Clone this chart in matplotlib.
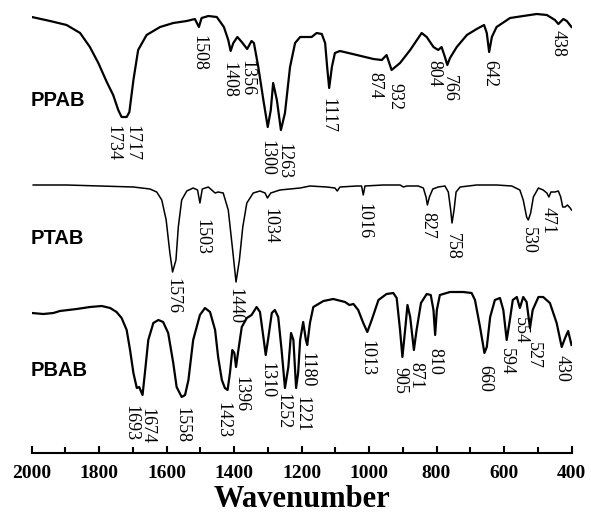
import numpy as np
import matplotlib
matplotlib.use('Agg')
import matplotlib.pyplot as plt
from matplotlib.ticker import MultipleLocator

########### spectra (wavenumber, transmittance in a.u., already stacked)

ppab_wn = [1999, 1945, 1896, 1856, 1827, 1802, 1777, 1758, 1743, 1733, 1725, 1718, 1710, 1698, 1684,
           1659, 1619, 1580, 1540, 1516, 1504, 1496, 1476, 1451, 1430, 1417, 1410, 1402, 1390, 1377,
           1361, 1348, 1341, 1328, 1313, 1300, 1291, 1284, 1273, 1261, 1249, 1234, 1219, 1204, 1195,
           1170, 1155, 1140, 1130, 1124, 1118, 1110, 1101, 1086, 1036, 987, 962, 948, 940, 933,
           908, 878, 844, 829, 809, 795, 785, 775, 768, 760, 740, 710, 681, 659, 651,
           644, 636, 622, 582, 543, 503, 473, 449, 439, 424, 414, 400]
ppab_t = [436, 432, 428, 420, 406, 390, 371, 358, 343, 336, 336, 336, 341, 373, 403,
          418, 426, 430, 432, 434, 426, 435, 437, 436, 426, 413, 402, 410, 416, 411,
          404, 412, 410, 386, 353, 326, 343, 370, 353, 323, 340, 386, 410, 416, 416,
          416, 420, 419, 410, 386, 365, 386, 400, 402, 398, 394, 393, 398, 390, 383,
          390, 403, 420, 416, 406, 403, 406, 396, 388, 395, 406, 418, 424, 428, 420,
          401, 416, 426, 435, 437, 439, 438, 433, 429, 434, 432, 426]

ptab_wn = [1995, 1896, 1797, 1698, 1649, 1629, 1614, 1601, 1590, 1582, 1572, 1565, 1555, 1540, 1521,
           1508, 1501, 1494, 1476, 1456, 1447, 1432, 1417, 1404, 1394, 1384, 1374, 1362, 1343, 1323,
           1308, 1301, 1291, 1264, 1204, 1175, 1125, 1101, 1094, 1086, 1036, 1022, 1017, 1012, 958,
           908, 898, 888, 854, 839, 831, 827, 821, 811, 795, 775, 765, 758, 754, 748,
           742, 730, 681, 622, 577, 553, 543, 533, 528, 521, 513, 498, 484, 473, 467,
           461, 449, 439, 432, 426, 419, 412, 404, 400]
ptab_t = [268, 268, 267, 266, 264, 261, 253, 233, 200, 181, 193, 226, 253, 262, 265,
          263, 250, 264, 266, 260, 261, 260, 243, 203, 171, 193, 226, 250, 260, 262,
          260, 255, 260, 263, 265, 267, 266, 265, 262, 266, 267, 267, 258, 267, 268,
          268, 266, 267, 267, 265, 256, 248, 256, 264, 266, 267, 261, 243, 230, 243,
          261, 266, 268, 268, 267, 263, 253, 236, 233, 240, 256, 265, 263, 260, 256,
          261, 261, 262, 256, 246, 246, 248, 245, 243]

pbab_wn = [1999, 1965, 1935, 1916, 1866, 1827, 1792, 1767, 1748, 1733, 1718, 1708, 1698, 1688, 1681,
           1671, 1664, 1654, 1639, 1624, 1610, 1595, 1580, 1570, 1555, 1545, 1535, 1521, 1501, 1486,
           1471, 1456, 1447, 1436, 1427, 1419, 1412, 1405, 1399, 1394, 1387, 1377, 1362, 1348, 1333,
           1323, 1313, 1306, 1298, 1288, 1279, 1269, 1259, 1249, 1239, 1231, 1224, 1216, 1210, 1204,
           1195, 1187, 1183, 1175, 1165, 1135, 1106, 1071, 1058, 1046, 1032, 1017, 1005, 992, 972,
           948, 928, 918, 908, 901, 893, 886, 878, 867, 859, 846, 829, 817, 809, 804,
           799, 790, 760, 721, 696, 686, 671, 658, 651, 641, 627, 612, 602, 592, 584,
           574, 562, 553, 543, 533, 523, 515, 498, 484, 464, 444, 429, 419, 410, 400]
pbab_t = [140, 139, 140, 142, 144, 146, 147, 145, 141, 135, 123, 103, 80, 65, 66,
          58, 80, 113, 130, 133, 131, 120, 90, 66, 56, 58, 73, 113, 138, 145,
          141, 123, 96, 73, 65, 63, 80, 103, 100, 86, 103, 126, 135, 138, 146,
          141, 116, 98, 116, 140, 143, 136, 103, 65, 86, 120, 113, 65, 80, 113,
          131, 113, 108, 130, 146, 152, 154, 151, 148, 149, 143, 130, 121, 133, 153,
          159, 160, 155, 123, 96, 123, 148, 136, 103, 123, 150, 159, 158, 143, 118,
          143, 158, 161, 161, 160, 153, 126, 100, 106, 136, 153, 155, 143, 113, 130,
          153, 156, 145, 156, 151, 125, 143, 156, 156, 150, 130, 106, 115, 122, 108]

# peak labels: (text, x position, top of label)
ppab_peaks = ['1734', '1717', '1508', '1408', '1356', '1300', '1263', '1117', '874', '932',
              '804', '766', '642', '438']
ppab_px = [1758, 1703, 1504, 1414, 1361, 1303, 1253, 1121, 982, 923, 807, 762, 641, 439]
ppab_py = [328, 328, 418, 391, 393, 313, 310, 355, 381, 370, 393, 378, 393, 423]

ptab_peaks = ['1576', '1503', '1440', '1034', '1016', '827', '758', '530', '471']
ptab_px = [1580, 1496, 1397, 1295, 1015, 827, 753, 528, 469]
ptab_py = [175, 234, 165, 245, 250, 241, 220, 226, 246]

pbab_peaks = ['1693', '1674', '1558', '1423', '1396', '1310', '1252', '1221', '1180', '1013',
              '905', '871', '810', '660', '594', '554', '527', '430']
pbab_px = [1706, 1657, 1555, 1432, 1380, 1303, 1254, 1199, 1185, 1007, 908, 861, 804, 656,
           593, 552, 513, 429]
pbab_py = [48, 45, 46, 51, 77, 91, 60, 57, 101, 113, 86, 91, 105, 88, 105, 136, 111, 98]

names = ['PPAB', 'PTAB', 'PBAB']
name_y = [353, 215, 83]

###########

fig = plt.figure(figsize=(5.91, 5.15), dpi=100)
ax = fig.add_axes([31.5/591, 62/515, 540/591, 453/515])

ax.plot(ppab_wn, ppab_t, color='black', lw=1.6)
ax.plot(ptab_wn, ptab_t, color='black', lw=1.1)
ax.plot(pbab_wn, pbab_t, color='black', lw=1.6)

peak_font = dict(family='Liberation Serif', size=13, rotation=270, ha='center', va='top')
for labels, xs, ys in [(ppab_peaks, ppab_px, ppab_py),
                       (ptab_peaks, ptab_px, ptab_py),
                       (pbab_peaks, pbab_px, pbab_py)]:
   for lab, x, y in zip(labels, xs, ys):
      ax.text(x, y, lab, **peak_font)

for nm, y in zip(names, name_y):
   ax.text(2004, y, nm, family='Liberation Sans', weight='bold', size=14.5,
           ha='left', va='center')

ax.set_xlim(2000, 400)
ax.set_ylim(0, 453)
for s in ['left', 'right', 'top']:
   ax.spines[s].set_visible(False)
ax.spines['bottom'].set_linewidth(1.5)
ax.set_yticks([])
ax.xaxis.set_major_locator(MultipleLocator(200))
ax.xaxis.set_minor_locator(MultipleLocator(100))
ax.tick_params(axis='x', which='major', direction='in', length=5, width=1.5, pad=9)
ax.tick_params(axis='x', which='minor', direction='in', length=4, width=1.5)
for lab in ax.get_xticklabels():
   lab.set_fontfamily('Liberation Serif')
   lab.set_fontweight('bold')
   lab.set_fontsize(14)
ax.set_xlabel('Wavenumber', family='Liberation Serif', weight='bold', size=22, labelpad=2)

fig.savefig('out.png', dpi=100)
